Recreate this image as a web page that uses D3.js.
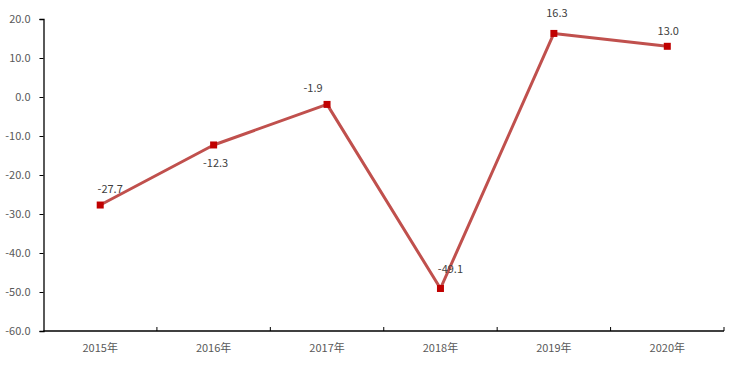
<!DOCTYPE html>
<html>
<head>
<meta charset="utf-8">
<script src="https://cdn.jsdelivr.net/npm/d3@7"></script>
<style>
	body { margin: 0; background: #fff; }
	svg { display: block; }
	text { font-family: "Noto Sans CJK SC", "Open Sans", sans-serif; }
</style>
</head>
<body>
<svg id="chart" width="735" height="371"></svg>
<script>
"use strict"

// data
var years = ["2015年", "2016年", "2017年", "2018年", "2019年", "2020年"];
var values = [-27.7, -12.3, -1.9, -49.1, 16.3, 13.0];
var yTicks = [20, 10, 0, -10, -20, -30, -40, -50, -60];

// label nudges (dx, dy) so they sit like the original
var labelOffset = [[10, -16], [2, 18], [-14, -16], [10, -19], [3, -20], [1, -15]];

var W = 735, H = 371;
var margin = {left: 43.5, right: 11, top: 19, bottom: 40};

var svg = d3.select("#chart");

var x = d3.scaleBand()
	.domain(years)
	.range([margin.left, W - margin.right]);
var y = d3.scaleLinear()
	.domain([-60, 20])
	.range([H - margin.bottom, margin.top]);

// y axis
var gy = svg.append("g")
	.attr("transform", "translate(" + margin.left + ",0)")
	.call(d3.axisLeft(y).tickValues(yTicks).tickSize(4).tickPadding(9)
		.tickFormat(function(d) { return d.toFixed(1); }));
gy.select(".domain").attr("stroke", "#000").attr("stroke-width", 1.3);
gy.selectAll(".tick line").attr("stroke", "#000");
gy.selectAll(".tick text").attr("fill", "#595959").style("font-size", "11px");

// x axis: ticks between categories, pointing inward
var y0 = y(-60);
var gx = svg.append("g");
gx.append("line")
	.attr("x1", margin.left).attr("x2", W - margin.right)
	.attr("y1", y0).attr("y2", y0)
	.attr("stroke", "#000").attr("stroke-width", 1.3);
var bounds = years.map(function(d) { return x(d) + x.bandwidth(); });
gx.selectAll("line.tk").data(bounds).enter().append("line")
	.attr("class", "tk")
	.attr("x1", function(d) { return d; }).attr("x2", function(d) { return d; })
	.attr("y1", y0).attr("y2", y0 - 4)
	.attr("stroke", "#000");
gx.selectAll("text").data(years).enter().append("text")
	.attr("x", function(d) { return x(d) + x.bandwidth() / 2; })
	.attr("y", y0 + 17)
	.attr("dy", "0.35em")
	.attr("text-anchor", "middle")
	.attr("fill", "#595959")
	.style("font-size", "11px")
	.text(function(d) { return d; });

// line
var pts = years.map(function(d, i) { return {cat: d, v: values[i], i: i}; });
var line = d3.line()
	.x(function(d) { return x(d.cat) + x.bandwidth() / 2; })
	.y(function(d) { return y(d.v); });
svg.append("path")
	.datum(pts)
	.attr("d", line)
	.attr("fill", "none")
	.attr("stroke", "#C0504D")
	.attr("stroke-width", 3)
	.attr("stroke-linejoin", "round");

// markers
svg.selectAll("rect.mk").data(pts).enter().append("rect")
	.attr("class", "mk")
	.attr("x", function(d) { return x(d.cat) + x.bandwidth() / 2 - 3.5; })
	.attr("y", function(d) { return y(d.v) - 3.5; })
	.attr("width", 7).attr("height", 7)
	.attr("fill", "#C00000");

// data labels
svg.selectAll("text.lbl").data(pts).enter().append("text")
	.attr("class", "lbl")
	.attr("x", function(d) { return x(d.cat) + x.bandwidth() / 2 + labelOffset[d.i][0]; })
	.attr("y", function(d) { return y(d.v) + labelOffset[d.i][1]; })
	.attr("dy", "0.35em")
	.attr("text-anchor", "middle")
	.attr("fill", "#404040")
	.style("font-size", "11px")
	.text(function(d) { return d.v.toFixed(1); });
</script>
</body>
</html>
